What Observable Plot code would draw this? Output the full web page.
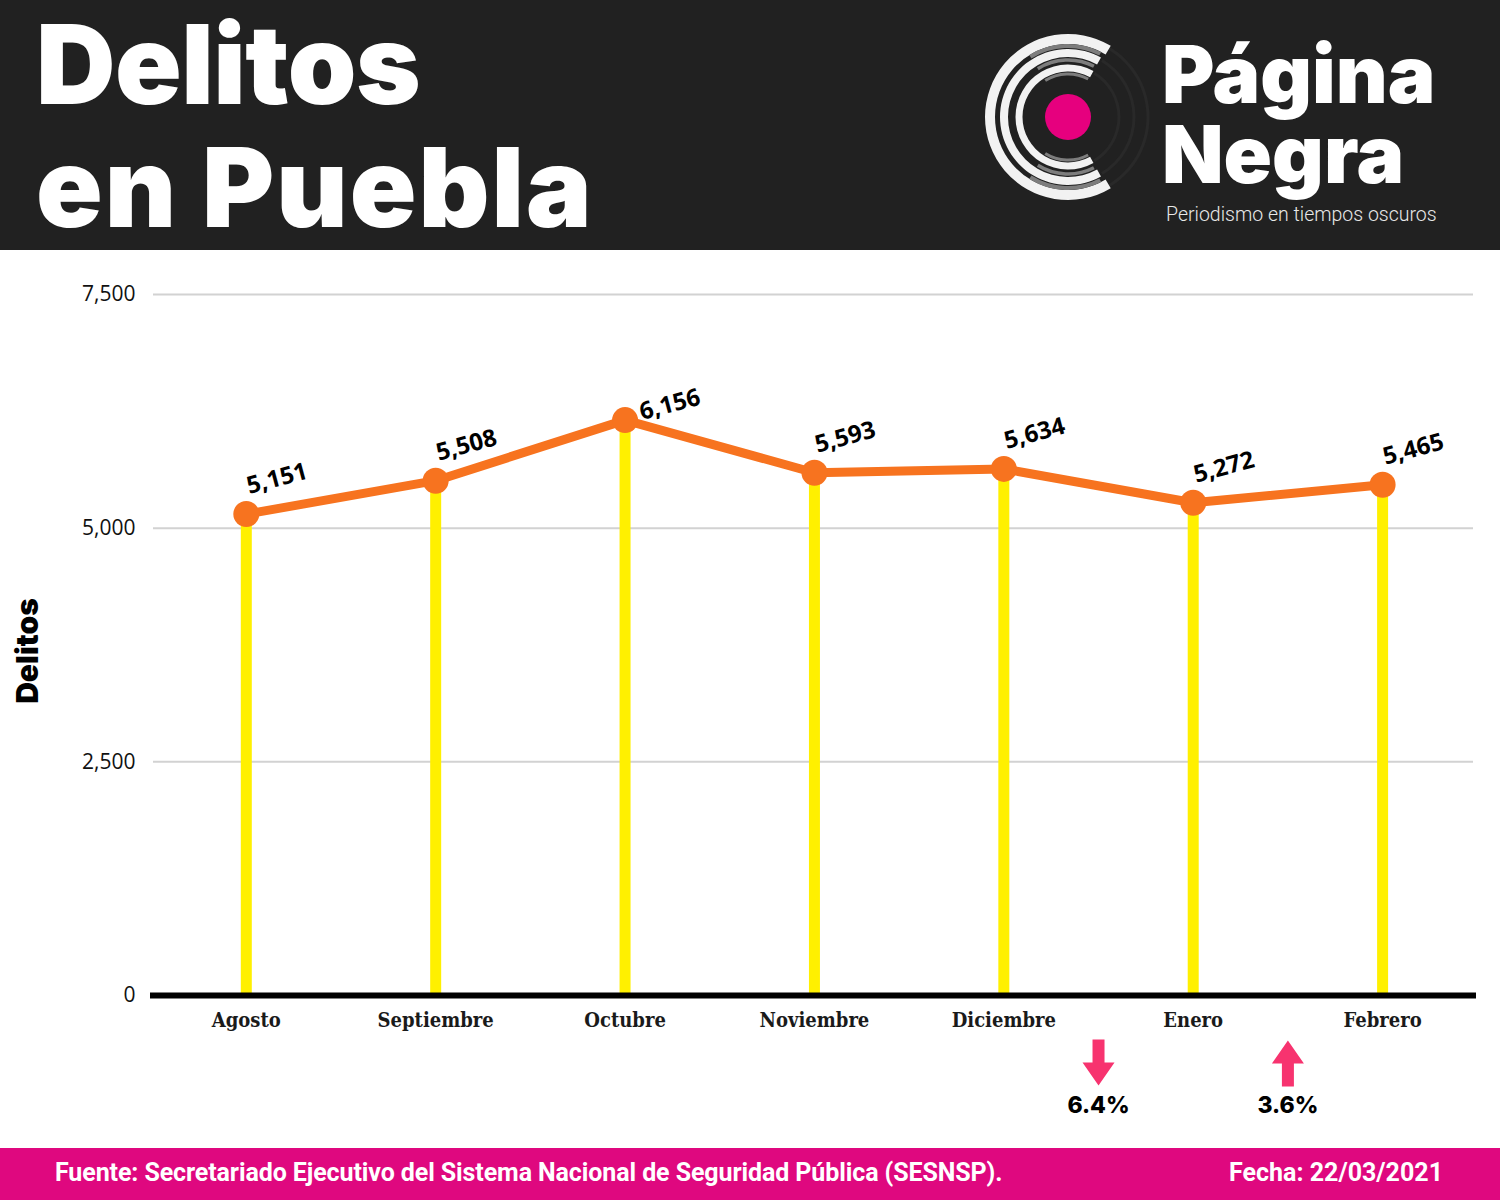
<!DOCTYPE html>
<html lang="es">
<head>
<meta charset="utf-8">
<title>Delitos en Puebla</title>
<script src="https://cdn.jsdelivr.net/npm/d3@7"></script>
<script src="https://cdn.jsdelivr.net/npm/@observablehq/plot@0.6"></script>
<style>
  html, body { margin: 0; padding: 0; background: #ffffff; }
  #page { position: relative; width: 1500px; height: 1200px; overflow: hidden; background: #ffffff; }
  #header { position: absolute; left: 0; top: 0; width: 1500px; height: 250px; background: #212121; }
  .title { position: absolute; left: 36px; color: #ffffff; font-family: Inter, Lato, sans-serif; font-weight: 900; font-size: 110px; line-height: 1; white-space: nowrap; }
  #t1 { top: 9px; letter-spacing: -0.5px; }
  #t2 { top: 132px; letter-spacing: 2px; }
  #logo { position: absolute; left: 980px; top: 30px; }
  .brand { position: absolute; left: 1162px; color: #ffffff; font-family: Inter, Lato, sans-serif; font-weight: 900; font-size: 80px; line-height: 0.95; white-space: nowrap; }
  #b1 { top: 36px; }
  #b2 { top: 116px; }
  #tagline { position: absolute; left: 1166px; top: 203px; color: #e8e8e8; font-family: Roboto, "Open Sans", sans-serif; font-weight: 300; font-size: 19.5px; white-space: nowrap; }
  #chart { position: absolute; left: 0; top: 250px; }
  #footer { position: absolute; left: 0; top: 1148px; width: 1500px; height: 52px; background: #df087f; color: #ffffff; font-family: Roboto, sans-serif; font-weight: 700; font-size: 25px; }
  #fuente { position: absolute; left: 55px; top: 10px; white-space: nowrap; letter-spacing: -0.1px; }
  #fecha { position: absolute; right: 57px; top: 10px; white-space: nowrap; }
</style>
</head>
<body>
<div id="page">
  <div id="header">
    <div class="title" id="t1">Delitos</div>
    <div class="title" id="t2">en Puebla</div>
    <svg id="logo" width="175" height="180" viewBox="0 0 175 180"></svg>
    <div class="brand" id="b1">Página</div>
    <div class="brand" id="b2">Negra</div>
    <div id="tagline">Periodismo en tiempos oscuros</div>
  </div>
  <div id="chart"></div>
  <div id="footer">
    <div id="fuente">Fuente: Secretariado Ejecutivo del Sistema Nacional de Seguridad Pública (SESNSP).</div>
    <div id="fecha">Fecha: 22/03/2021</div>
  </div>
</div>
<script>
// Monthly crime totals, Puebla
const meses = ["Agosto", "Septiembre", "Octubre", "Noviembre", "Diciembre", "Enero", "Febrero"];
const delitos = [5151, 5508, 6156, 5593, 5634, 5272, 5465];
const yTicks = [0, 2500, 5000, 7500];

// Month-over-month changes shown under the axis
const cambioDesde = ["Diciembre", "Enero"];
const cambioHasta = ["Enero", "Febrero"];
const cambioTexto = ["6.4%", "3.6%"];
const cambioSentido = ["baja", "sube"];

const data = meses.map((mes, i) => ({ i, mes, valor: delitos[i] }));
const cambios = cambioTexto.map((t, k) => ({
  x: (meses.indexOf(cambioDesde[k]) + meses.indexOf(cambioHasta[k])) / 2,
  texto: t,
  sentido: cambioSentido[k]
}));
const maximo = d3.max(delitos);

// Block arrows for the change markers
const flechaAbajo = {
  draw(ctx) {
    ctx.moveTo(-6, -23); ctx.lineTo(6, -23); ctx.lineTo(6, 0); ctx.lineTo(16, 0);
    ctx.lineTo(0, 23); ctx.lineTo(-16, 0); ctx.lineTo(-6, 0); ctx.closePath();
  }
};
const flechaArriba = {
  draw(ctx) {
    ctx.moveTo(-6, 23); ctx.lineTo(6, 23); ctx.lineTo(6, 0); ctx.lineTo(16, 0);
    ctx.lineTo(0, -23); ctx.lineTo(-16, 0); ctx.lineTo(-6, 0); ctx.closePath();
  }
};

const naranja = "#f7731f";
const amarillo = "#fff000";
const rosa = "#f7336f";

const chart = Plot.plot({
  width: 1500,
  height: 898,
  marginLeft: 153,
  marginRight: 27,
  marginTop: 44,
  marginBottom: 153,
  style: { background: "#ffffff", overflow: "visible" },
  x: { type: "linear", domain: [-0.49, 6.48] },
  y: { domain: [0, 7500] },
  marks: [
    Plot.ruleY(yTicks.filter(t => t > 0), { stroke: "#d2d2d2", strokeWidth: 2 }),
    Plot.axisY({
      ticks: yTicks, tickFormat: d3.format(","), tickSize: 0, tickPadding: 18,
      fontSize: 21, fontFamily: "Open Sans, sans-serif", fill: "#111", label: null
    }),
    Plot.axisX({
      ticks: d3.range(meses.length), tickFormat: i => meses[i], tickSize: 0, tickPadding: 17,
      fontSize: 20, fontFamily: "DejaVu Serif Condensed, DejaVu Serif, serif", fontWeight: 700, fill: "#1a1a1a", label: null
    }),
    Plot.text(["Delitos"], {
      frameAnchor: "left", textAnchor: "middle", dx: -125, dy: 6, rotate: -90, text: d => d,
      fontSize: 30, fontWeight: 900, fontFamily: "Inter, Lato, sans-serif", fill: "#000"
    }),
    Plot.ruleX(data, { x: "i", y1: 0, y2: "valor", stroke: amarillo, strokeWidth: 11 }),
    Plot.ruleY([0], { stroke: "#000", strokeWidth: 6, inset: -3 }),
    Plot.line(data, { x: "i", y: "valor", stroke: naranja, strokeWidth: 9, curve: "linear" }),
    Plot.dot(data, { x: "i", y: "valor", r: 13, fill: naranja }),
    // value labels, the peak sits to the right of its point
    Plot.text(data.filter(d => d.valor !== maximo), {
      x: "i", y: "valor", text: d => d3.format(",")(d.valor),
      textAnchor: "start", lineAnchor: "bottom", rotate: -15, dx: 3, dy: -20,
      fontSize: 24, fontWeight: 700, fontFamily: "Open Sans, sans-serif", fill: "#000"
    }),
    Plot.text(data.filter(d => d.valor === maximo), {
      x: "i", y: "valor", text: d => d3.format(",")(d.valor),
      textAnchor: "start", lineAnchor: "bottom", rotate: -15, dx: 17, dy: 0,
      fontSize: 24, fontWeight: 700, fontFamily: "Open Sans, sans-serif", fill: "#000"
    }),
    Plot.dot(cambios.filter(d => d.sentido === "baja"), {
      x: "x", frameAnchor: "bottom", dy: 67, symbol: flechaAbajo, fill: rosa, stroke: "none"
    }),
    Plot.dot(cambios.filter(d => d.sentido === "sube"), {
      x: "x", frameAnchor: "bottom", dy: 68, symbol: flechaArriba, fill: rosa, stroke: "none"
    }),
    Plot.text(cambios, {
      x: "x", frameAnchor: "bottom", dy: 117, text: "texto",
      fontSize: 23, fontWeight: 800, fontFamily: "Inter, Lato, sans-serif", fill: "#000"
    })
  ]
});
document.getElementById("chart").appendChild(chart);

// Header logo: concentric rings open to the right, around a magenta dot
(function drawLogo() {
  const svg = d3.select("#logo");
  const cx = 88, cy = 87;
  const deg = Math.PI / 180;
  const arc = d3.arc();
  const g = svg.append("g").attr("transform", `translate(${cx},${cy})`);
  const abierto = 31; // half-opening measured from 3 o'clock, in degrees from 12 o'clock
  // faint continuation on the open side
  [[80, 3], [66, 3], [51, 3]].forEach(([r, w]) => {
    g.append("path").attr("d", arc({ innerRadius: r - w / 2, outerRadius: r + w / 2, startAngle: abierto * deg, endAngle: (180 - abierto) * deg }))
      .attr("fill", "#292929");
  });
  // white rings
  [[78, 10, 31], [64, 8, 29], [49, 7, 29]].forEach(([r, w, a]) => {
    g.append("path").attr("d", arc({ innerRadius: r - w / 2, outerRadius: r + w / 2, startAngle: (180 - a) * deg, endAngle: (360 + a) * deg }))
      .attr("fill", "#f2f2f2");
  });
  // grey inner strokes near both ends of each ring
  [[71, 4, 27], [57, 3.5, 27], [43, 3, 28]].forEach(([r, w, a]) => {
    [[-32, a], [180 - a, 212]].forEach(([a0, a1]) => {
      g.append("path").attr("d", arc({ innerRadius: r - w / 2, outerRadius: r + w / 2, startAngle: a0 * deg, endAngle: a1 * deg }))
        .attr("fill", "#7d7d7d");
    });
  });
  g.append("circle").attr("r", 23).attr("fill", "#e6007e");
})();
</script>
</body>
</html>
